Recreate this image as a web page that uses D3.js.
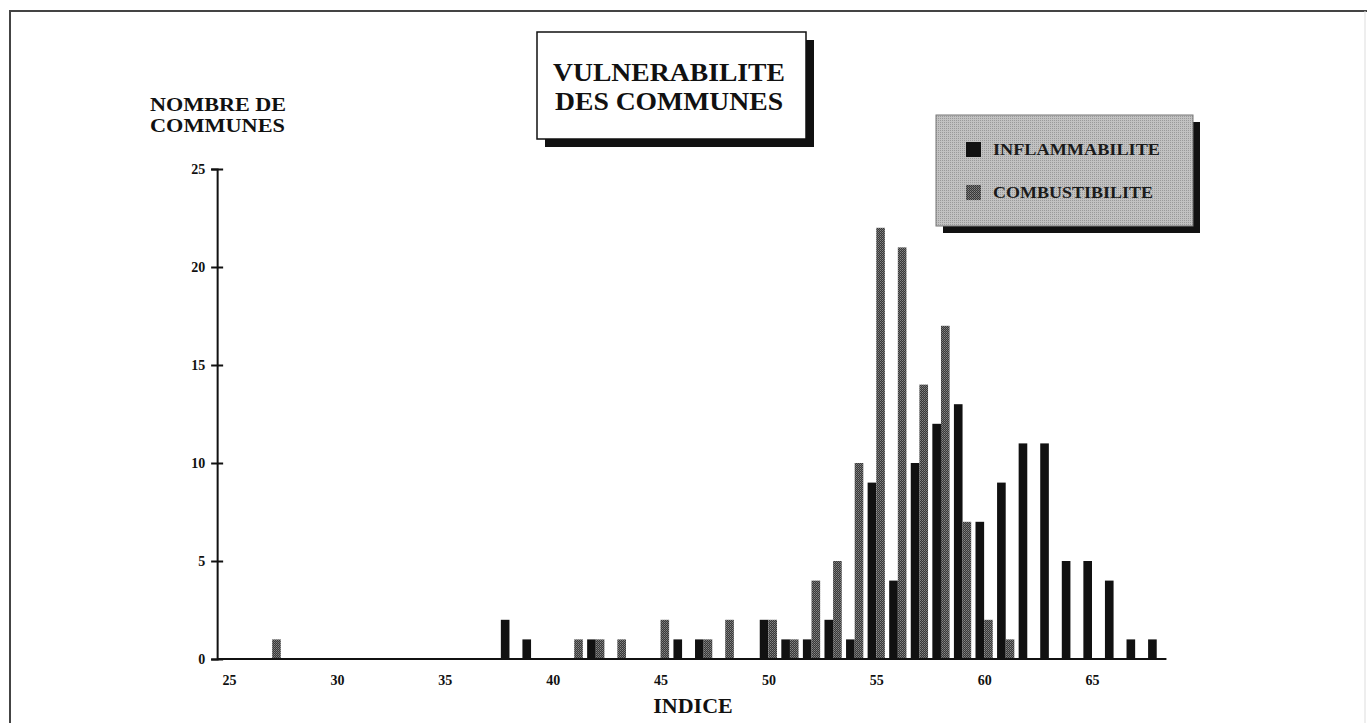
<!DOCTYPE html>
<html>
<head>
<meta charset="utf-8">
<script src="https://cdn.jsdelivr.net/npm/d3@7"></script>
<style>
    body { margin: 0; background: #fff; }
    svg text { font-family: "Liberation Serif", "DejaVu Serif", serif; font-weight: bold; }
</style>
</head>
<body>
<svg id="chart" width="1367" height="723"></svg>
<script>
// indice values for each series
var inflIndice = [38, 39, 42, 46, 47, 50, 51, 52, 53, 54, 55, 56, 57, 58, 59, 60, 61, 62, 63, 64, 65, 66, 67, 68];
var inflCount  = [ 2,  1,  1,  1,  1,  2,  1,  1,  2,  1,  9,  4, 10, 12, 13,  7,  9, 11, 11,  5,  5,  4,  1,  1];

var combIndice = [27, 41, 42, 43, 45, 47, 48, 50, 51, 52, 53, 54, 55, 56, 57, 58, 59, 60, 61];
var combCount  = [ 1,  1,  1,  1,  2,  1,  2,  2,  1,  4,  5, 10, 22, 21, 14, 17,  7,  2,  1];

var xTicks = [25, 30, 35, 40, 45, 50, 55, 60, 65];
var yTicks = [0, 5, 10, 15, 20, 25];

var titleLines = ["VULNERABILITE", "DES COMMUNES"];
var yTitleLines = ["NOMBRE DE", "COMMUNES"];
var xTitle = "INDICE";
var legendLabels = ["INFLAMMABILITE", "COMBUSTIBILITE"];

var svg = d3.select("#chart");

// textures for the scanned grey fills
var defs = svg.append("defs");
var pBar = defs.append("pattern").attr("id", "greyBar")
        .attr("width", 2).attr("height", 2).attr("patternUnits", "userSpaceOnUse");
pBar.append("rect").attr("width", 2).attr("height", 2).attr("fill", "#383838");
pBar.append("rect").attr("width", 1).attr("height", 1).attr("fill", "#858585");
pBar.append("rect").attr("x", 1).attr("y", 1).attr("width", 1).attr("height", 1).attr("fill", "#6c6c6c");

var pLeg = defs.append("pattern").attr("id", "greyLegend")
        .attr("width", 2).attr("height", 2).attr("patternUnits", "userSpaceOnUse");
pLeg.append("rect").attr("width", 2).attr("height", 2).attr("fill", "#c2c2c2");
pLeg.append("rect").attr("width", 1).attr("height", 1).attr("fill", "#9a9a9a");

// page frame
svg.append("path")
        .attr("d", "M10,723 V11 H1367")
        .attr("fill", "none").attr("stroke", "#444").attr("stroke-width", 2);
svg.append("line")
        .attr("x1", 1365).attr("x2", 1365).attr("y1", 11).attr("y2", 723)
        .attr("stroke", "#ddd").attr("stroke-width", 1);

var x = d3.scaleLinear().domain([25, 65]).range([229, 1092]);
var y = d3.scaleLinear().domain([0, 25]).range([659, 169]);
var barW = 0.4;

// bars: black on the left of the indice, grey on the right
svg.append("g").selectAll("rect")
        .data(inflIndice)
        .enter().append("rect")
        .attr("x", function (d) { return x(d - barW); })
        .attr("width", function (d) { return x(d) - x(d - barW); })
        .attr("y", function (d, i) { return y(inflCount[i]); })
        .attr("height", function (d, i) { return y(0) - y(inflCount[i]); })
        .attr("fill", "#111");

svg.append("g").selectAll("rect")
        .data(combIndice)
        .enter().append("rect")
        .attr("x", function (d) { return x(d); })
        .attr("width", function (d) { return x(d + barW) - x(d); })
        .attr("y", function (d, i) { return y(combCount[i]); })
        .attr("height", function (d, i) { return y(0) - y(combCount[i]); })
        .attr("fill", "url(#greyBar)");

// y axis
var gy = svg.append("g")
        .attr("transform", "translate(" + x(24.45) + ",0)")
        .call(d3.axisLeft(y).tickValues(yTicks).tickSize(6).tickPadding(6));
gy.select(".domain").attr("stroke", "#111").attr("stroke-width", 2);
gy.selectAll(".tick line").attr("x2", -6).attr("x1", 6).attr("stroke", "#111").attr("stroke-width", 2);
gy.selectAll(".tick text").attr("font-size", 14).attr("fill", "#111")
        .attr("font-family", "Liberation Serif").attr("font-weight", "bold");

// x axis
var gx = svg.append("g")
        .attr("transform", "translate(0," + y(0) + ")")
        .call(d3.axisBottom(x).tickValues(xTicks).tickSize(0).tickPadding(16));
gx.select(".domain").attr("d", "M" + x(24.45) + ",0H" + x(68.45))
        .attr("stroke", "#111").attr("stroke-width", 2);
gx.selectAll(".tick text").attr("font-size", 14).attr("fill", "#111")
        .attr("font-family", "Liberation Serif").attr("font-weight", "bold");

// axis titles
svg.append("text").attr("x", 693).attr("y", 713).attr("text-anchor", "middle")
        .attr("font-size", 22).attr("fill", "#111").text(xTitle);

svg.selectAll(".ytitle").data(yTitleLines).enter().append("text")
        .attr("class", "ytitle")
        .attr("x", 150).attr("y", function (d, i) { return 111 + i * 21; })
        .attr("font-size", 19).attr("fill", "#111")
        .attr("textLength", function (d, i) { return i == 0 ? 136 : 135; })
        .attr("lengthAdjust", "spacingAndGlyphs")
        .text(function (d) { return d; });

// title box with shadow
svg.append("rect").attr("x", 545).attr("y", 40).attr("width", 269).attr("height", 107).attr("fill", "#111");
svg.append("rect").attr("x", 537).attr("y", 32).attr("width", 269).attr("height", 107)
        .attr("fill", "#fff").attr("stroke", "#111").attr("stroke-width", 1.5);
svg.selectAll(".title").data(titleLines).enter().append("text")
        .attr("class", "title")
        .attr("x", function (d, i) { return i == 0 ? 553 : 555; })
        .attr("y", function (d, i) { return 81 + i * 29; })
        .attr("font-size", 25).attr("fill", "#111")
        .attr("textLength", function (d, i) { return i == 0 ? 232 : 228; })
        .attr("lengthAdjust", "spacingAndGlyphs")
        .text(function (d) { return d; });

// legend
svg.append("rect").attr("x", 943).attr("y", 122).attr("width", 257).attr("height", 111).attr("fill", "#111");
svg.append("rect").attr("x", 936).attr("y", 115).attr("width", 257).attr("height", 111)
        .attr("fill", "url(#greyLegend)").attr("stroke", "#777").attr("stroke-width", 1);

var leg = svg.selectAll(".leg").data(legendLabels).enter().append("g")
        .attr("class", "leg")
        .attr("transform", function (d, i) { return "translate(966," + (142 + i * 43) + ")"; });
leg.append("rect").attr("width", 15).attr("height", 15)
        .attr("fill", function (d, i) { return i == 0 ? "#111" : "url(#greyBar)"; });
leg.append("text").attr("x", 27).attr("y", 13)
        .attr("font-size", 17).attr("fill", "#1a1a1a")
        .attr("textLength", function (d, i) { return i == 0 ? 167 : 160; })
        .attr("lengthAdjust", "spacingAndGlyphs")
        .text(function (d) { return d; });
</script>
</body>
</html>
